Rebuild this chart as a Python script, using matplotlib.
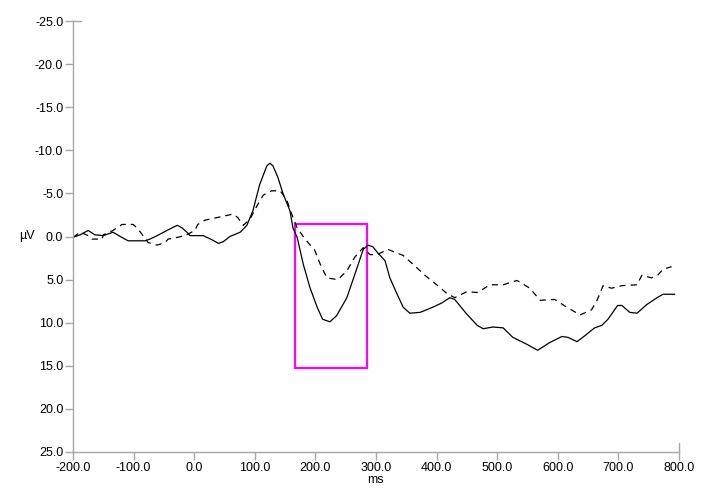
import matplotlib
matplotlib.use("Agg")
import matplotlib.pyplot as plt
from matplotlib.patches import Rectangle

plt.rcParams['font.family'] = ['Liberation Sans', 'DejaVu Sans']

# waveform 1 (solid)
t_solid = [-200, -188, -175, -164, -150, -134, -122, -109, -81, -73, -61, -45, -28, -20,
           -12, -7, 15, 30, 40, 48, 59, 76, 87, 97, 108, 120, 125, 130, 138, 147, 158,
           163, 170, 180, 191, 203, 212, 224, 235, 252, 269, 279, 287, 295, 303, 315,
           323, 335, 345, 356, 373, 394, 409, 422, 430, 450, 467, 477, 493, 510, 526,
           549, 567, 587, 607, 617, 632, 645, 661, 673, 683, 699, 706, 719, 731, 747,
           764, 774, 793]
v_solid = [0.1, -0.2, -0.7, -0.2, -0.1, -0.5, 0.0, 0.5, 0.5, 0.3, -0.1, -0.7, -1.3, -1.0,
           -0.5, -0.1, -0.1, 0.4, 0.8, 0.6, 0.0, -0.5, -1.3, -3.0, -6.0, -8.2, -8.5, -8.2,
           -6.9, -4.9, -3.0, -1.0, 0.1, 3.2, 5.9, 8.2, 9.6, 9.9, 9.2, 7.1, 3.6, 1.5, 1.0,
           1.2, 1.9, 2.8, 4.8, 6.7, 8.2, 8.9, 8.8, 8.2, 7.7, 7.1, 7.3, 9.0, 10.3, 10.7,
           10.5, 10.6, 11.7, 12.5, 13.2, 12.3, 11.6, 11.7, 12.2, 11.5, 10.6, 10.3, 9.6,
           8.0, 8.0, 8.8, 8.9, 7.9, 7.1, 6.7, 6.7]

# waveform 2 (dashed)
t_dash = [-200, -188, -175, -169, -152, -150, -134, -119, -101, -94, -76, -61, -48, -43,
          -28, -15, 1, 6, 18, 38, 64, 72, 81, 92, 104, 114, 128, 142, 153, 161, 170, 183,
          199, 208, 219, 237, 252, 265, 279, 290, 302, 320, 345, 361, 381, 402, 417, 430,
          450, 468, 488, 510, 533, 554, 571, 595, 615, 637, 656, 665, 675, 689, 706, 731,
          739, 755, 765, 774, 788]
v_dash = [0.1, -0.5, -0.1, 0.3, 0.3, -0.2, -0.7, -1.4, -1.4, -1.0, 0.7, 1.0, 0.7, 0.3,
          0.1, -0.1, -0.7, -1.4, -1.9, -2.2, -2.6, -2.2, -1.3, -2.0, -3.6, -4.8, -5.3,
          -5.3, -4.2, -2.6, -1.0, 0.3, 1.6, 3.2, 4.8, 5.0, 4.0, 2.4, 1.3, 2.1, 2.1, 1.5,
          2.2, 3.2, 4.5, 5.7, 6.6, 7.1, 6.4, 6.5, 5.6, 5.6, 5.1, 6.0, 7.4, 7.3, 8.2, 9.1,
          8.5, 7.4, 5.7, 6.0, 5.7, 5.6, 4.5, 4.8, 4.5, 3.8, 3.5]

# analysis window
win_start, win_end = 166, 286
win_low, win_high = -1.4, 15.3

x_ticks = list(range(-200, 801, 100))
y_ticks = list(range(-25, 26, 5))

axis_grey = '#a6a6a6'

fig = plt.figure(figsize=(7.02, 5.0), dpi=100)
ax = fig.add_axes([0.104, 0.096, 0.863, 0.862])

ax.plot(t_solid, v_solid, color='black', lw=0.9)
ax.plot(t_dash, v_dash, color='black', lw=0.9, dashes=(5, 4))

ax.add_patch(Rectangle((win_start, win_low), win_end - win_start, win_high - win_low,
                       fill=False, edgecolor='#ff00ff', lw=1.6))

ax.set_xlim(-200, 800)
ax.set_ylim(25, -25)
ax.set_xticks(x_ticks)
ax.set_yticks(y_ticks)
ax.set_xticklabels([f"{v:.1f}" for v in x_ticks])
ax.set_yticklabels([f"{v:.1f}" for v in y_ticks])

for s in ['top', 'right']:
    ax.spines[s].set_visible(False)
for s in ['left', 'bottom']:
    ax.spines[s].set_color(axis_grey)
    ax.spines[s].set_linewidth(1.0)
ax.tick_params(colors=axis_grey, labelcolor='black', length=5.5, width=1.0,
               labelsize=9, pad=1.5)

# small end marks where the axes stop
ax.plot([-200, -187], [-25, -25], color=axis_grey, lw=1.0, clip_on=False)
ax.plot([800, 800], [25, 24], color=axis_grey, lw=1.0, clip_on=False)

ax.set_xlabel("ms", fontsize=9, labelpad=0)
ax.set_ylabel("µV", fontsize=9, rotation=0, va='center', ha='center')
ax.yaxis.set_label_coords(-0.076, 0.5)

fig.savefig("out.png", dpi=100)
